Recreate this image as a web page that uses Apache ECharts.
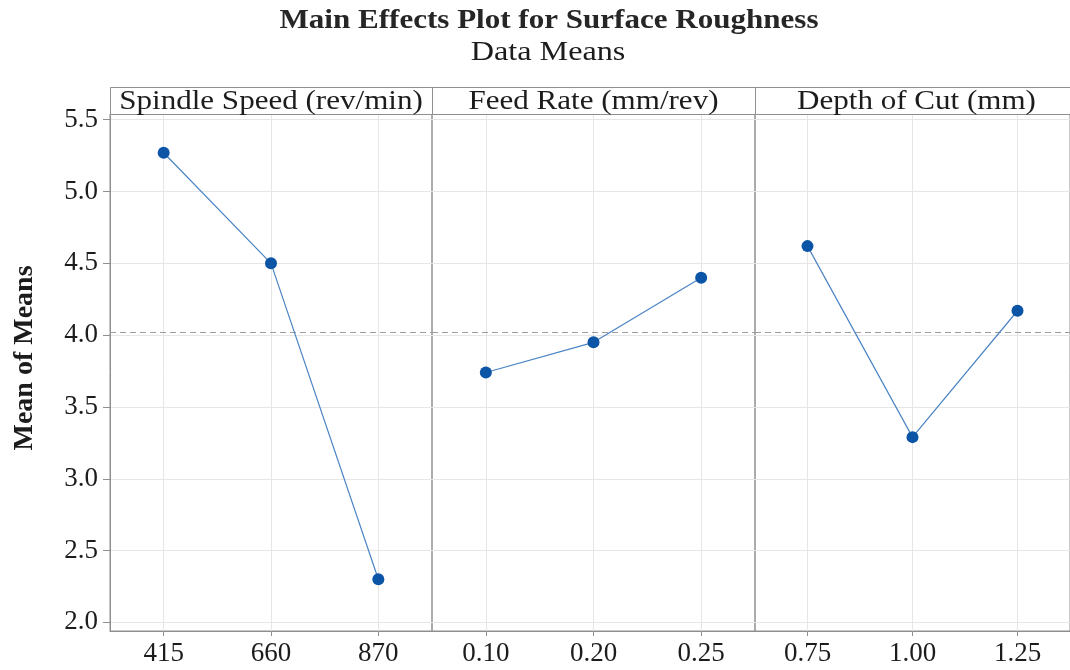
<!DOCTYPE html>
<html>
<head>
<meta charset="utf-8">
<script src="https://cdn.jsdelivr.net/npm/echarts@6/dist/echarts.min.js"></script>
<style>html,body{margin:0;padding:0;background:#fff}#c{width:1070px;height:670px}</style>
</head>
<body>
<div id="c"></div>
<script>
const chartTitle = 'Main Effects Plot for Surface Roughness';
const chartSubtitle = 'Data Means';
const yAxisTitle = 'Mean of Means';
const panelTitles = ['Spindle Speed (rev/min)', 'Feed Rate (mm/rev)', 'Depth of Cut (mm)'];
const spindleLevels = ['415', '660', '870'];
const feedLevels = ['0.10', '0.20', '0.25'];
const depthLevels = ['0.75', '1.00', '1.25'];
const spindleMeans = [5.27, 4.50, 2.30];
const feedMeans = [3.74, 3.95, 4.40];
const depthMeans = [4.62, 3.29, 4.17];
const yTicks = [2.0, 2.5, 3.0, 3.5, 4.0, 4.5, 5.0, 5.5];
const grandMean = 4.023;

const levels = [spindleLevels, feedLevels, depthLevels];
const means = [spindleMeans, feedMeans, depthMeans];

const FONT = '"Liberation Serif", "Times New Roman", serif';
const TEXT = '#1c1c1c';
const FRAME = '#8f8f8f';
const GRID = '#e6e6e6';
const STRETCH = 1.15;
const panelLeft = [110, 432, 755];
const panelWidth = [322, 323, 323];
const plotTop = 114, plotHeight = 517, stripTop = 87;

const grids = [], xAxes = [], yAxes = [], series = [], graphics = [];
for (let p = 0; p < 3; p++) {
  grids.push({left: panelLeft[p], top: plotTop, width: panelWidth[p], height: plotHeight,
    show: true, borderColor: FRAME, borderWidth: 1, backgroundColor: 'transparent'});
  const cats = levels[p];
  const idx = cats.map((c, i) => i);
  xAxes.push({
    type: 'value', gridIndex: p, min: -0.5, max: cats.length - 0.5,
    axisLine: {show: true, onZero: false, lineStyle: {color: FRAME}},
    axisTick: {show: true, length: 5, lineStyle: {color: FRAME}, customValues: idx},
    axisLabel: {show: true, customValues: idx, margin: 9, fontFamily: FONT, fontSize: 27, color: TEXT,
      formatter: v => cats[Math.round(v)]},
    splitLine: {show: true, lineStyle: {color: GRID, width: 1}}
  });
  yAxes.push({
    type: 'value', gridIndex: p, min: 1.94, max: 5.54,
    axisLine: {show: p === 0, onZero: false, lineStyle: {color: FRAME}},
    axisTick: {show: p === 0, length: 7, lineStyle: {color: FRAME}, customValues: yTicks},
    axisLabel: {show: p === 0, customValues: yTicks, margin: 12, fontFamily: FONT, fontSize: 27, color: TEXT,
      formatter: v => v.toFixed(1)},
    splitLine: {show: true, lineStyle: {color: GRID, width: 1}}
  });
  series.push({
    type: 'line', xAxisIndex: p, yAxisIndex: p,
    data: means[p].map((v, i) => [i, v]),
    symbol: 'circle', symbolSize: 12,
    itemStyle: {color: '#0b54a6'},
    lineStyle: {color: '#4a84c4', width: 1.2},
    z: 5,
    markLine: {silent: true, symbol: 'none', label: {show: false},
      lineStyle: {color: '#9e9e9e', type: [6, 4], width: 1},
      data: [{yAxis: grandMean}]}
  });
  graphics.push({type: 'rect', shape: {x: panelLeft[p] + 0.5, y: stripTop + 0.5, width: panelWidth[p], height: plotTop - stripTop},
    style: {fill: '#fff', stroke: FRAME, lineWidth: 1}, z: 10});
  graphics.push({type: 'text', x: panelLeft[p] + panelWidth[p] / 2, y: stripTop + (plotTop - stripTop) / 2 + 1,
    scaleX: STRETCH,
    style: {text: panelTitles[p], x: 0, y: 0, font: '27px ' + FONT, fill: TEXT, textAlign: 'center', textVerticalAlign: 'middle'}, z: 11});
}
graphics.push({type: 'text', x: 549, y: 21, scaleX: STRETCH,
  style: {text: chartTitle, x: 0, y: 0, font: 'bold 27px ' + FONT, fill: '#262626', textAlign: 'center', textVerticalAlign: 'middle'}});
graphics.push({type: 'text', x: 548, y: 53, scaleX: STRETCH,
  style: {text: chartSubtitle, x: 0, y: 0, font: '28px ' + FONT, fill: TEXT, textAlign: 'center', textVerticalAlign: 'middle'}});
graphics.push({type: 'text', x: 25, y: 358, rotation: Math.PI / 2,
  style: {text: yAxisTitle, x: 0, y: 0, font: 'bold 28px ' + FONT, fill: TEXT, textAlign: 'center', textVerticalAlign: 'middle'}});

const chart = echarts.init(document.getElementById('c'), null, {renderer: 'canvas'});
chart.setOption({
  backgroundColor: '#fff',
  animation: false,
  grid: grids, xAxis: xAxes, yAxis: yAxes, series: series,
  graphic: graphics
});
</script>
</body>
</html>
